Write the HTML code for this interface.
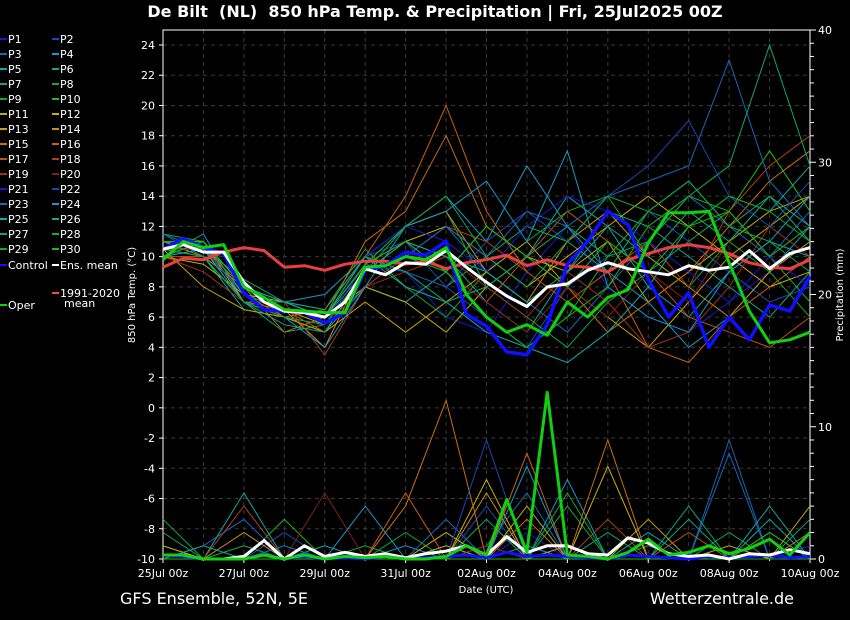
<!DOCTYPE html>
<html><head><meta charset="utf-8"><style>
html,body{margin:0;padding:0;background:#000;width:850px;height:620px;overflow:hidden}
svg{display:block;font-family:"DejaVu Sans","Liberation Sans",sans-serif}
</style></head><body>
<svg id="chart" width="850" height="620" viewBox="0 0 850 620" xmlns="http://www.w3.org/2000/svg">
<rect width="850" height="620" fill="#000"/>
<text x="435" y="17" fill="#fff" font-size="16" font-weight="bold" text-anchor="middle" style="white-space:pre" xml:space="preserve">De Bilt  (NL)  850 hPa Temp. &amp; Precipitation | Fri, 25Jul2025 00Z</text>
<text x="120" y="604" fill="#fff" font-size="16">GFS Ensemble, 52N, 5E</text>
<text x="794" y="604" fill="#fff" font-size="16" text-anchor="end">Wetterzentrale.de</text>
<text transform="translate(135,295) rotate(-90)" fill="#fff" font-size="10" text-anchor="middle">850 hPa Temp. (°C)</text>
<text transform="translate(843,295) rotate(-90)" fill="#fff" font-size="10" text-anchor="middle">Precipitation (mm)</text>
<text x="486" y="593" fill="#fff" font-size="10" text-anchor="middle">Date (UTC)</text>
<g id="grid"></g><g id="axes"></g><g id="members"></g><g id="main"></g><g id="legend"></g>
</svg>
<script>
const xLabels=["25Jul 00z","27Jul 00z","29Jul 00z","31Jul 00z","02Aug 00z","04Aug 00z","06Aug 00z","08Aug 00z","10Aug 00z"];
const tempTicks=[-10,-8,-6,-4,-2,0,2,4,6,8,10,12,14,16,18,20,22,24];
const precTicks=[0,10,20,30,40];
const controlT=[10.5,11.2,10.6,10.2,7.6,6.5,6.4,6.3,5.6,6.3,9.1,9.4,10.3,10.1,11.0,6.2,5.4,3.7,3.5,5.5,9.5,11.0,13.0,12.1,8.5,6.0,7.6,4.0,6.0,4.5,6.8,6.4,8.7];
const operT=[9.8,11.0,10.6,10.8,8.0,7.3,6.5,6.4,6.3,6.3,9.3,9.4,10.0,9.8,10.6,7.5,6.0,5.0,5.5,4.8,7.0,6.0,7.3,7.8,10.9,12.9,12.9,13.0,9.6,6.4,4.3,4.5,5.0];
const meanT=[10.5,10.8,10.3,10.3,8.3,7.0,6.4,6.3,6.0,7.0,9.2,8.8,9.6,9.5,10.4,9.3,8.3,7.4,6.7,8.0,8.2,9.1,9.6,9.2,9.0,8.8,9.4,9.1,9.3,10.4,9.2,10.2,10.6];
const climT=[9.3,9.9,9.8,10.3,10.6,10.4,9.3,9.4,9.1,9.5,9.7,9.7,9.5,9.7,9.2,9.6,9.8,10.1,9.4,9.8,9.4,9.3,9.0,9.8,10.2,10.6,10.8,10.6,10.2,9.6,9.3,9.2,9.8];
const controlP=[0.3,0.2,0,0,0,0.3,0,0.2,0,0.1,0,0.2,0,0.1,0.2,0.3,0.1,0.5,0.2,0.3,0.2,0.1,0,0.3,0.2,0.1,0,0.2,0.1,0.2,0.3,0.1,0.2];
const operP=[0.3,0.3,0,0,0,0.3,0,0.3,0,0.2,0.1,0.2,0,0,0.2,1.0,0.3,4.5,0.5,12.6,0.3,0.2,0,0.5,1.5,0.3,0.5,1.0,0.4,0.8,1.5,0.3,2.0];
const meanP=[0.3,0.3,0,0,0.2,1.4,0,1.0,0.2,0.5,0.2,0.4,0.1,0.4,0.6,1.0,0.3,1.7,0.5,1.0,1.0,0.4,0.3,1.6,1.2,0.4,0.2,0.3,0,0.4,0.3,0.7,0.4];
const memberT=[
[11,10.5,7,6.5,6,9.5,9,6,5,9,12,8,6,5,7,9,11],
[10.5,11,7.5,7,6.5,10,11,8,6,4,8,10,13,11,9,7,8],
[11.5,10,8,6,5.5,9,10,12,9,7,5,8,11,14,12,10,13],
[10,11.5,7,7,7.5,10,12,14,11,16,12,9,7,4,6,9,12],
[11,10,6.5,6,5,8,7,9,12,10,14,12,8,6,9,11,10],
[10.5,10.5,8,6.5,6,9.5,11,10,7,5,9,13,12,10,8,6,9],
[11,11,7.5,7,6,10,9,8,10,12,11,9,13,15,12,14,11],
[10,10.5,7,5,5.5,9,12,13,8,6,4,7,9,11,13,10,7],
[11.5,11,8,7,6.5,10.5,8,6,9,11,13,14,10,8,11,9,6],
[10.5,10,7,6,5,9,10,9,6,4,6,8,12,14,13,17,13],
[10,9.5,7.5,7,6,8,7,5,8,10,9,11,7,9,11,13,14],
[11,10.5,8,6.5,5.5,9,11,12,10,8,10,12,14,12,10,8,9],
[10.5,8,6.5,6,5,7,5,7,9,11,8,6,4,7,10,12,14],
[10,11,7,6.5,4,9.5,12,13,9,7,11,13,10,8,6,9,11],
[11,10,8,5,6,11,13,18,12,10,8,5,7,9,12,15,17],
[10.5,10.5,7.5,6,6.5,10,14,20,13,9,7,9,4,3,6,8,10],
[10,10,7,6.5,5,9,11,9,7,10,13,11,9,6,5,4,6],
[11,10.5,8,7,3.5,8,10,12,11,9,7,9,11,8,13,16,18],
[10,9,7,6,5.5,8,9,10,8,6,9,7,4,5,8,12,10],
[10.5,10.5,7.5,6.5,6,9,11,9,7,5,8,6,9,7,11,14,12],
[11,11,8,7,6,10,12,11,9,12,14,13,11,9,7,10,8],
[10.5,10,7,6,5.5,9.5,9,8,11,13,11,14,16,19,14,12,15],
[11.5,10.5,7.5,6.5,6,9,10,12,10,13,12,14,15,16,23,15,12],
[10,10.5,7,6,4,8,12,13,15,11,17,8,6,5,9,11,14],
[11,11,8,7,6,10,8,7,5,4,3,5,8,12,14,13,16],
[10.5,10,7,5.5,5,9,11,10,9,7,9,12,10,13,11,14,12],
[11,10.5,8.5,7,6.5,10,9,7,8,10,12,10,11,14,16,24,16],
[10,11,7.5,6.5,6,9.5,12,14,10,8,11,14,13,15,12,11,9],
[10.5,10,7,6,5.5,9,10,9,6,4,6,10,13,12,14,13,11],
[11,11,8,6.5,6,9.5,11,9,12,10,8,11,9,12,13,10,12]];
const memberP=[
[0,0,1,0,0,0,0,1,0,2,0,0,1,0,0,0,0],
[0,0,0,2,0,0,0,0,4,0,1,0,0,0,0,0,1],
[0,1,3,0,0,0,0,0,1,5,0,0,0,0,8,0,0],
[1,0,0,0,0,0,1,0,0,0,6,0,0,0,0,0,2],
[0,0,5,0,1,0,0,0,0,1,0,0,2,0,0,3,0],
[0,0,0,0,0,0,0,2,0,0,0,0,0,3,0,0,0],
[2,0,0,1,0,0,0,0,3,0,0,2,0,0,0,0,3],
[0,0,1,0,0,1,0,0,0,0,4,0,0,0,2,0,0],
[0,0,0,0,0,0,2,0,0,0,0,0,1,0,0,0,0],
[0,0,0,3,0,0,0,0,0,0,0,0,0,0,0,2,0],
[0,0,0,0,0,0,0,1,0,4,0,0,0,0,0,0,0],
[1,0,0,0,0,0,0,0,6,0,0,7,0,0,1,0,0],
[0,0,0,0,0,0,0,2,0,0,1,0,3,0,0,0,4],
[0,0,2,0,0,0,0,0,5,0,0,0,0,0,0,0,0],
[0,0,0,0,0,0,4,12,0,3,0,9,0,0,0,0,0],
[0,0,0,0,0,0,5,0,0,8,0,0,0,0,0,0,2],
[0,0,0,0,0,0,0,0,0,0,0,0,0,2,0,0,0],
[0,0,4,0,0,0,0,0,0,0,0,3,0,0,0,0,0],
[0,0,0,0,0,0,0,0,1,0,0,0,0,0,0,0,0],
[0,0,0,0,5,0,0,0,0,0,0,0,0,0,0,0,0],
[0,0,0,0,0,0,0,0,0,0,0,0,0,0,0,0,1],
[0,0,0,0,0,0,0,0,9,0,0,0,0,0,0,0,0],
[0,0,0,1,0,0,0,3,0,0,0,0,0,0,9,0,0],
[0,0,0,0,0,4,0,0,0,7,0,0,0,0,0,0,0],
[0,0,0,0,0,0,0,0,0,0,0,0,0,0,0,4,0],
[0,1,0,0,0,0,0,0,0,0,0,0,0,0,0,0,0],
[0,0,0,0,0,0,0,0,0,0,0,0,0,4,0,0,0],
[3,0,0,0,0,0,0,0,0,0,0,0,0,0,0,0,0],
[0,0,0,0,0,0,0,0,0,0,5,0,0,0,0,0,0],
[0,0,0,0,0,0,0,0,0,0,0,0,0,0,0,2,0]];
const memberColors=["#1818d0","#1848b8","#1868b8","#1898c8","#10a8a8","#10a888","#10a868","#10a848","#10a828","#20b818","#b8b010","#c8b010","#c8a010","#c89010","#c87010","#c86010","#c05010","#b04010","#a03018","#802018"];
const NS="http://www.w3.org/2000/svg";
const X0=163,X1=810,Y0=30,Y1=559;
function xs(d){return X0+(X1-X0)*d/16;}
function yT(t){return Y1-(t+10)*(Y1-45)/34;}
function yP(p){return Y1-p*(Y1-Y0)/40;}
function mk(tag,attrs,parent){const e=document.createElementNS(NS,tag);for(const k in attrs)e.setAttribute(k,attrs[k]);parent.appendChild(e);return e;}
const grid=document.getElementById('grid'),axes=document.getElementById('axes'),mem=document.getElementById('members'),main=document.getElementById('main'),leg=document.getElementById('legend');
for(let d=1;d<16;d++){const l=mk('line',{x1:xs(d),x2:xs(d),y1:Y0,y2:Y1,stroke:'#3a3a3a','stroke-dasharray':'4,4'},grid);

}
tempTicks.forEach(t=>{const y=yT(t);
if(t>-10){const l=mk('line',{x1:X0,x2:X1,y1:y,y2:y,stroke:'#3a3a3a','stroke-dasharray':'4,4'},grid);

}
mk('line',{x1:X0-4,x2:X0,y1:y,y2:y,stroke:'#fff'},axes);
const tx=mk('text',{x:X0-8,y:y+4,fill:'#fff','font-size':11,'text-anchor':'end'},axes);tx.textContent=t;

});
for(let p=0;p<=40;p++){const y=yP(p);const maj=p%10===0;mk('line',{x1:X1,x2:X1+(maj?6:4),y1:y,y2:y,stroke:'#fff'},axes);}
precTicks.forEach(p=>{const tx=mk('text',{x:X1+8,y:yP(p)+4,fill:'#fff','font-size':11},axes);tx.textContent=p;

});
xLabels.forEach((s,i)=>{const x=xs(i*2);mk('line',{x1:x,x2:x,y1:Y1,y2:Y1+4,stroke:'#fff'},axes);
const tx=mk('text',{x:x,y:577,fill:'#fff','font-size':11,'text-anchor':'middle'},axes);tx.textContent=s;

});
for(let d=0;d<=16;d++){mk('line',{x1:xs(d),x2:xs(d),y1:Y1,y2:Y1+2,stroke:'#fff'},axes);}
const frame=mk('rect',{x:X0,y:Y0,width:X1-X0,height:Y1-Y0,fill:'none',stroke:'#fff','stroke-width':1},axes);


function path(vals,step,yf){return vals.map((v,i)=>(i?'L':'M')+xs(i*step).toFixed(1)+','+yf(v).toFixed(1)).join('');}
memberT.forEach((vals,i)=>{const c=memberColors[i%20];
const p=mk('path',{d:path(vals,1,yT),fill:'none',stroke:c,'stroke-width':1},mem);


const q=mk('path',{d:path(memberP[i],1,yP),fill:'none',stroke:c,'stroke-width':1},mem);

});
function mainLine(vals,yf,c,w,name){const p=mk('path',{d:path(vals,0.5,yf),fill:'none',stroke:c,'stroke-width':w,'stroke-linejoin':'round'},main);

}
mainLine(controlP,yP,'#1010ff',3,'control-precip-line');
mainLine(meanP,yP,'#ffffff',3,'mean-precip-line');
mainLine(operP,yP,'#10d010',3,'oper-precip-line');
mainLine(climT,yT,'#e84040',3,'climate-mean-line');
mainLine(controlT,yT,'#1010ff',3.5,'control-temp-line');
mainLine(meanT,yT,'#ffffff',3,'mean-temp-line');
mainLine(operT,yT,'#10d010',3,'oper-temp-line');
function legItem(x,y,c,label,name){mk('line',{x1:x,x2:x+7,y1:y,y2:y,stroke:c,'stroke-width':2},leg);
const t=mk('text',{x:x+8,y:y+4,fill:'#fff','font-size':11},leg);t.textContent=label;

}
for(let i=0;i<30;i++){const col=i%2,row=Math.floor(i/2);legItem(col?52:0,39+row*15,memberColors[i%20],'P'+(i+1),'legend-entry');}
legItem(0,265,'#1010ff','Control','legend-control');
legItem(52,265,'#ffffff','Ens. mean','legend-ens-mean');
legItem(52,293,'#ff4040','1991-2020','legend-climate');
const m=mk('text',{x:64,y:307,fill:'#fff','font-size':11},leg);m.textContent='mean';
legItem(0,305,'#10d010','Oper','legend-oper');
</script>
</body></html>
